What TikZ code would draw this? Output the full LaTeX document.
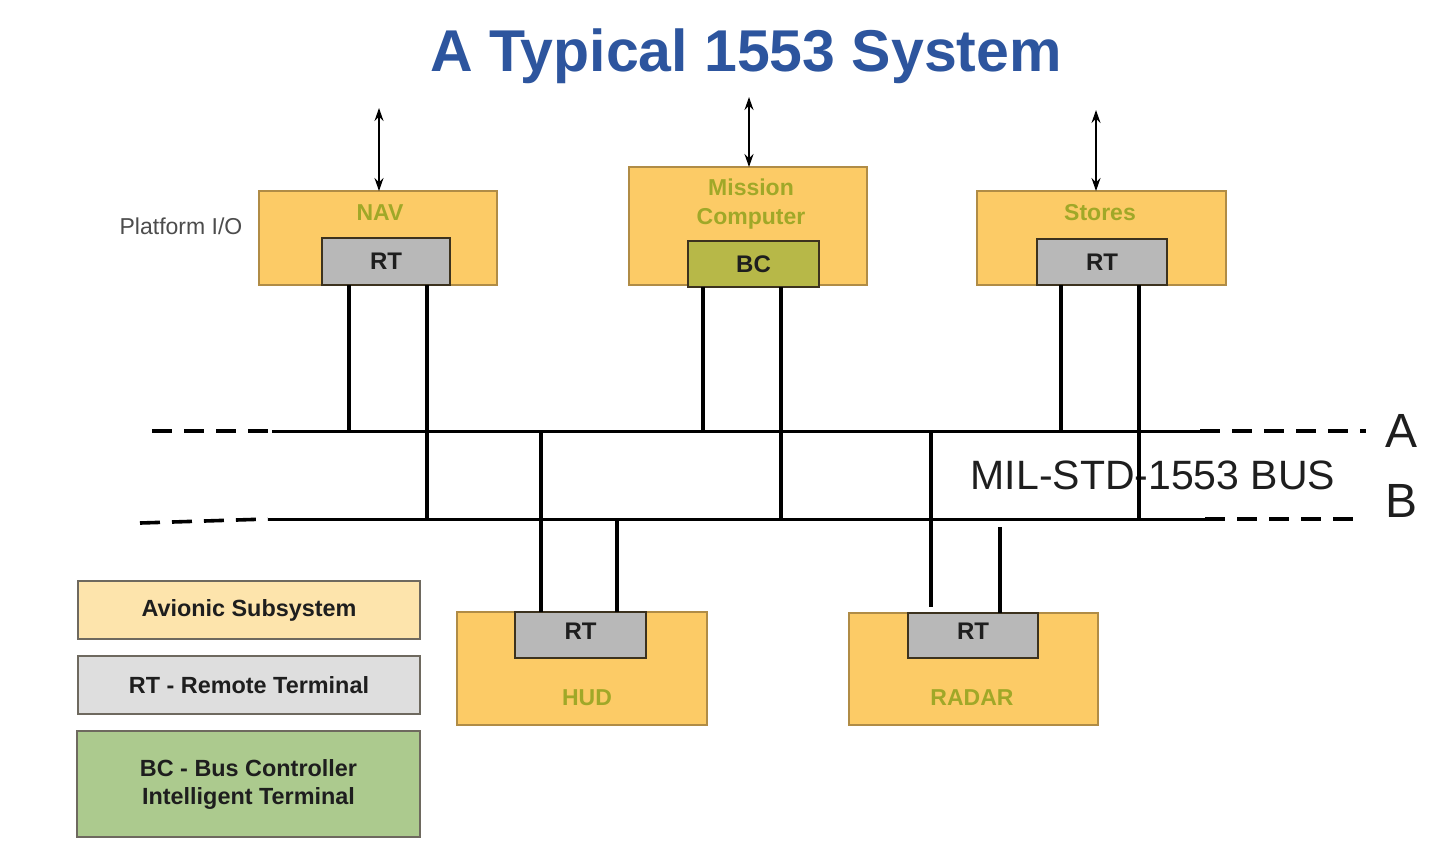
\documentclass[tikz,border=0pt]{standalone}
\usepackage{fontspec}
\setmainfont{Liberation Sans}
\usetikzlibrary{arrows.meta}
\definecolor{titleblue}{RGB}{45,85,158}
\definecolor{subfill}{RGB}{252,203,102}
\definecolor{subedge}{RGB}{176,140,70}
\definecolor{subtext}{RGB}{160,168,40}
\definecolor{rtfill}{RGB}{184,184,184}
\definecolor{rtedge}{RGB}{60,50,30}
\definecolor{bcfill}{RGB}{183,184,72}
\definecolor{legA}{RGB}{253,228,172}
\definecolor{legB}{RGB}{222,222,222}
\definecolor{legC}{RGB}{172,202,142}
\definecolor{legedge}{RGB}{110,105,95}
\definecolor{ink}{RGB}{30,30,30}
\begin{document}
\begin{tikzpicture}[x=0.5pt,y=-0.5pt,
  subsys/.style={draw=subedge, fill=subfill, line width=1pt, inner sep=0pt, outer sep=0pt},
  rtbox/.style={draw=rtedge, fill=rtfill, line width=1pt, inner sep=0pt, outer sep=0pt, font=\bfseries\fontsize{12}{14}\selectfont, text=ink},
  bcbox/.style={rtbox, fill=bcfill},
  sublabel/.style={font=\bfseries\fontsize{11.5}{14}\selectfont, text=subtext, inner sep=0pt},
  legbox/.style={draw=legedge, line width=1pt, inner sep=0pt, outer sep=0pt, minimum width=171pt, font=\bfseries\fontsize{11.7}{15}\selectfont, text=ink, align=center},
  wire/.style={line width=1.7pt, draw=black},
  bus/.style={line width=1.5pt, draw=black},
  busdash/.style={line width=1.8pt, draw=black, dash pattern=on 10pt off 6pt},
  io/.style={line width=0.8pt, {Stealth[length=6.5pt,width=4.5pt]}-{Stealth[length=6.5pt,width=4.5pt]}}
]
\useasboundingbox (0,0) rectangle (1454,848);
\fill[white] (0,0) rectangle (1454,848);

% title
\node[font=\bfseries\fontsize{29.5}{34}\selectfont, text=titleblue, inner sep=0pt] (title) at (746,56) {A Typical 1553 System};

% top subsystems
\node[subsys, minimum width=119pt, minimum height=47pt] (nav) at (378,238) {};
\node[sublabel] (navlbl) at (380,213) {NAV};
\node[rtbox, minimum width=64pt, minimum height=23.5pt] (navrt) at (386,261.5) {RT};

\node[subsys, minimum width=119pt, minimum height=59pt] (mc) at (748,226) {};
\node[sublabel, align=center, font=\bfseries\fontsize{11.5}{14.5}\selectfont] (mclbl) at (751,204) {Mission\\Computer};
\node[bcbox, minimum width=65.5pt, minimum height=23pt] (bc) at (753.5,264) {BC};

\node[subsys, minimum width=124.5pt, minimum height=47pt] (st) at (1101.5,238) {};
\node[sublabel] (stlbl) at (1100,213) {Stores};
\node[rtbox, minimum width=65pt, minimum height=23pt] (strt) at (1102,262) {RT};

\node[font=\fontsize{11.5}{14}\selectfont, text=black!70, inner sep=0pt] (pio) at (181,226) {Platform I/O};

% platform I/O arrows
\coordinate (navio) at (379,108);
\coordinate (mcio) at (749,97);
\coordinate (stio) at (1096,110);
\draw[io] (navio) -- (navio |- nav.north);
\draw[io] (mcio) -- (mcio |- mc.north);
\draw[io] (stio) -- (stio |- st.north);

% bottom subsystems
\node[subsys, minimum width=125pt, minimum height=56.5pt] (hud) at (582,668.5) {};
\node[sublabel] (hudlbl) at (587,698) {HUD};
\node[rtbox, minimum width=65.5pt, minimum height=23pt, text depth=4pt] (hudrt) at (580.5,635) {RT};

\node[subsys, minimum width=124.5pt, minimum height=56pt] (radar) at (973.5,669) {};
\node[sublabel] (radarlbl) at (972,698) {RADAR};
\node[rtbox, minimum width=65pt, minimum height=22.5pt, text depth=4pt] (radarrt) at (973,635.5) {RT};

% bus coordinates
\coordinate (Al) at (152,431);
\coordinate (As) at (272,431);
\coordinate (Ae) at (1200,431);
\coordinate (Ar) at (1366,431);
\coordinate (Bl) at (140,523);
\coordinate (Bs) at (268,519);
\coordinate (Be) at (1205,519);
\coordinate (Br) at (1360,519);

\draw[busdash] (Al) -- (As);
\draw[bus] (As) -- (Ae);
\draw[busdash] (Ae) -- (Ar);
\draw[busdash] (Bl) -- (Bs);
\draw[bus] (Bs) -- (Be);
\draw[busdash] (Be) -- (Br);

\node[font=\fontsize{24}{28}\selectfont, text=ink, inner sep=0pt] (labA) at (1401,431) {A};
\node[font=\fontsize{24}{28}\selectfont, text=ink, inner sep=0pt] (labB) at (1401,501) {B};
\node[font=\fontsize{20.5}{24}\selectfont, text=ink, inner sep=0pt] (busname) at (1153,475) {MIL-STD-1553 BUS};

% stubs
\coordinate (a1) at (349,431);
\coordinate (b1) at (427,519);
\coordinate (a2) at (703,431);
\coordinate (b2) at (781,519);
\coordinate (a3) at (1061,431);
\coordinate (b3) at (1139,519);
\coordinate (a4) at (541,431);
\coordinate (b4) at (617,519);
\coordinate (a5) at (931,431);
\coordinate (e5) at (931,607);
\coordinate (b5) at (1000,527);

\draw[wire] (navrt.south -| a1) -- (a1);
\draw[wire] (navrt.south -| b1) -- (b1);
\draw[wire] (bc.south -| a2) -- (a2);
\draw[wire] (bc.south -| b2) -- (b2);
\draw[wire] (strt.south -| a3) -- (a3);
\draw[wire] (strt.south -| b3) -- (b3);
\draw[wire] (a4) -- (hudrt.north -| a4);
\draw[wire] (b4) -- (hudrt.north -| b4);
\draw[wire] (a5) -- (e5);
\draw[wire] (b5) -- (radarrt.north -| b5);

% legend
\node[legbox, fill=legA, minimum height=29pt] (legsub) at (249,610) {Avionic Subsystem};
\node[legbox, fill=legB, minimum height=29pt] (legrt) at (249,685) {RT - Remote Terminal};
\node[legbox, fill=legC, minimum height=53pt, minimum width=171.5pt] (legbc) at (248.5,784) {BC - Bus Controller\\[-1pt]Intelligent Terminal};
\end{tikzpicture}
\end{document}
